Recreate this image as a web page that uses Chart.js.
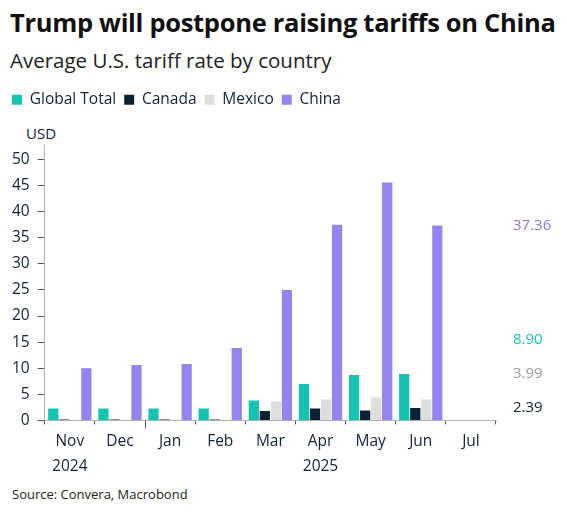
<!DOCTYPE html>
<html>
<head>
<meta charset="utf-8">
<script src="https://cdn.jsdelivr.net/npm/chart.js@4.4.1/dist/chart.umd.min.js"></script>
<style>
  body { margin: 0; width: 567px; height: 521px; background: #fff; font-family: "Open Sans", sans-serif; color: #13213a; position: relative; overflow: hidden; }
  #title { position: absolute; left: 10px; top: 5px; font-size: 25.5px; font-weight: 700; color: #111; white-space: nowrap; letter-spacing: -0.3px; }
  #subtitle { position: absolute; left: 10px; top: 46px; font-size: 20.5px; color: #222; white-space: nowrap; }
  #unit { position: absolute; left: 26px; top: 123px; font-size: 15px; }
  #source { position: absolute; left: 12px; top: 485px; font-size: 13px; color: #222; }
  #wrap { position: absolute; left: 0; top: 84px; width: 567px; height: 400px; }
</style>
</head>
<body>
<div id="title">Trump will postpone raising tariffs on China</div>
<div id="subtitle">Average U.S. tariff rate by country</div>
<div id="unit">USD</div>
<div id="wrap"><canvas id="chart"></canvas></div>
<div id="source">Source: Convera, Macrobond</div>
<script>
// Chart data
const months = [["Nov", "2024"], "Dec", "Jan", "Feb", "Mar", ["Apr", "2025"], "May", "Jun", "Jul"];
const globalTotal = [2.3, 2.3, 2.3, 2.3, 3.8, 7.0, 8.7, 8.90, null];
const canada = [0.15, 0.15, 0.15, 0.15, 1.8, 2.3, 1.9, 2.39, null];
const mexico = [0.1, 0.1, 0.1, 0.1, 3.6, 4.0, 4.4, 3.99, null];
const china = [10.0, 10.6, 10.8, 13.9, 25.0, 37.5, 45.6, 37.36, null];
const yTicks = [0, 5, 10, 15, 20, 25, 30, 35, 40, 45, 50];
const seriesNames = ["Global Total", "Canada", "Mexico", "China"];
const barColors = ["#14c3b0", "#0c2234", "#dedede", "#9684ee"];
const labelColors = ["#14c7bd", "#0c2234", "#9a9a9a", "#8a7ad6"];

const textColor = "#13213a";

// Longer tick where the year changes (between Dec and Jan)
const yearTick = {
  id: "yearTick",
  afterDraw(chart) {
    const x = chart.scales.x;
    const px = (x.getPixelForValue(1) + x.getPixelForValue(2)) / 2;
    const ctx = chart.ctx;
    ctx.save();
    ctx.strokeStyle = "#555";
    ctx.lineWidth = 1;
    ctx.beginPath();
    ctx.moveTo(Math.round(px) + 0.5, x.top);
    ctx.lineTo(Math.round(px) + 0.5, x.top + 8);
    ctx.stroke();
    ctx.restore();
  }
};

// Last values written at the right, pushed apart so they do not overlap
const lastValues = {
  id: "lastValues",
  afterDraw(chart) {
    const y = chart.scales.y;
    const ctx = chart.ctx;
    const items = chart.data.datasets.map((ds, i) => {
      const vals = ds.data.filter((v) => v !== null);
      const v = vals[vals.length - 1];
      return { v, py: y.getPixelForValue(v), color: labelColors[i] };
    });
    items.sort((a, b) => b.py - a.py);
    for (let i = 1; i < items.length; i++) {
      if (items[i - 1].py - items[i].py < 34) items[i].py = items[i - 1].py - 34;
    }
    ctx.save();
    ctx.font = "15px 'Open Sans'";
    ctx.textAlign = "left";
    ctx.textBaseline = "middle";
    items.forEach((it) => {
      ctx.fillStyle = it.color;
      ctx.fillText(it.v.toFixed(2), chart.chartArea.right + 17, it.py);
    });
    ctx.restore();
  }
};

// Extra room below the legend
const legendGap = {
  id: "legendGap",
  beforeInit(chart) {
    const fit = chart.legend.fit;
    chart.legend.fit = function () {
      fit.bind(chart.legend)();
      this.height += 28;
    };
  }
};

new Chart(document.getElementById("chart").getContext("2d"), {
  type: "bar",
  data: {
    labels: months,
    datasets: [globalTotal, canada, mexico, china].map((d, i) => ({
      label: seriesNames[i],
      data: d,
      backgroundColor: barColors[i],
      categoryPercentage: 0.88,
      barPercentage: 0.93,
    })),
  },
  options: {
    responsive: true,
    maintainAspectRatio: false,
    animation: false,
    layout: { padding: { left: 4, right: 71, top: 0, bottom: 0 } },
    plugins: {
      legend: {
        align: "start",
        labels: {
          boxWidth: 10,
          boxHeight: 10,
          padding: 8,
          color: textColor,
          font: { family: "Open Sans", size: 15.5 },
        },
      },
      tooltip: { enabled: false },
    },
    scales: {
      x: {
        offset: true,
        border: { color: "#b0b0b0", dash: [1, 1] },
        grid: { offset: true, drawOnChartArea: false, tickLength: 4, color: "#555" },
        ticks: {
          color: textColor,
          padding: 5,
          maxRotation: 0,
          font: { family: "Open Sans", size: 15.5, lineHeight: 1.6 },
        },
      },
      y: {
        min: 0,
        max: 52.7,
        border: { color: "#b0b0b0", dash: [1, 1] },
        grid: { drawOnChartArea: false, tickLength: 7, color: "#555" },
        afterBuildTicks: (scale) => {
          scale.ticks = yTicks.map((v) => ({ value: v }));
        },
        ticks: {
          color: textColor,
          padding: 8,
          font: { family: "Open Sans", size: 15.5 },
        },
      },
    },
  },
  plugins: [legendGap, yearTick, lastValues],
});
</script>
</body>
</html>
